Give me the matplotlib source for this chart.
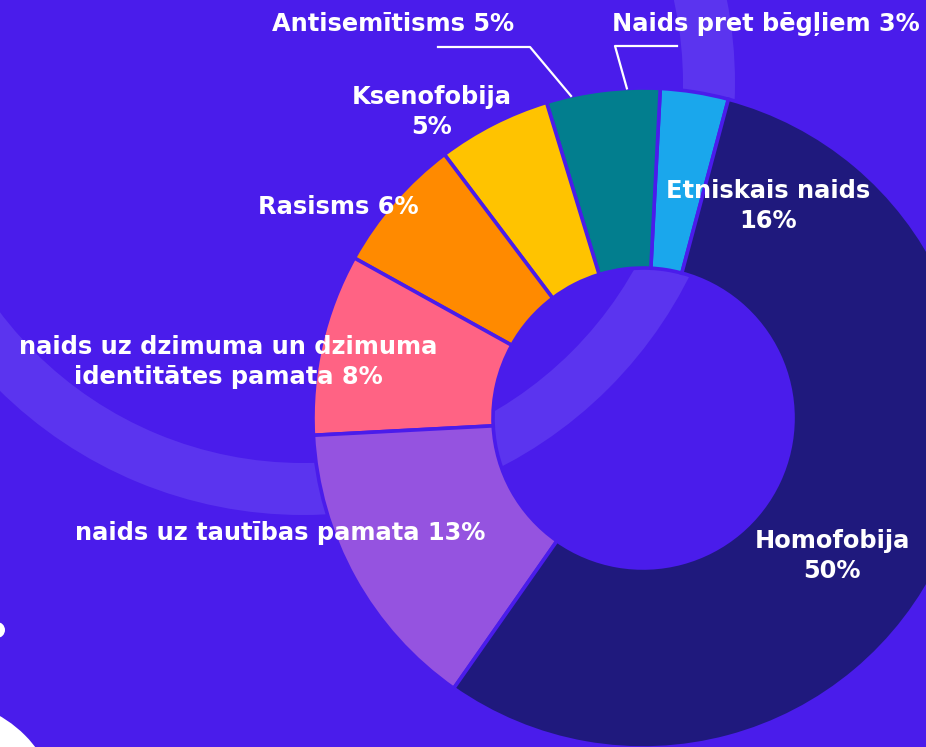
import matplotlib
matplotlib.use("Agg")
import matplotlib.pyplot as plt
from matplotlib.patches import Wedge, Circle
import numpy as np

# Wedge data (drawn counter-clockwise starting at the top right)
categories = ['Naids pret bēgļiem', 'Antisemītisms', 'Ksenofobija', 'Rasisms',
              'naids uz dzimuma un dzimuma\nidentitātes pamata',
              'naids uz tautības pamata', 'Homofobija']
values = [3, 5, 5, 6, 8, 13, 50]
label_sep = [' ', ' ', '\n', ' ', ' ', ' ', '\n']
colors = ['#1AA7EC', '#027E8E', '#FFC300', '#FF8A00', '#FF6384', '#9553E0', '#1F197D']

# label shown in the reference without its own wedge
extra_category = 'Etniskais naids'
extra_value = 16

bg = '#4A1CEB'
band = '#5B34EF'

# label positions (figure pixels, y up)
label_pos = [(766, 723), (393, 723), (432, 635), (338, 540),
             (228, 385), (280, 214), (832, 191)]
extra_pos = (768, 541)

W, H = 926, 747
fig = plt.figure(figsize=(W / 100, H / 100), dpi=100, facecolor=bg)
ax = fig.add_axes([0, 0, 1, 1])
ax.set_facecolor(bg)

# decorative background ring and white shapes
ax.add_patch(Wedge((303, 664), 432, 0, 360, width=52, facecolor=band, edgecolor='none', zorder=0))
ax.add_patch(Circle((-60, -73), 120, facecolor='white', edgecolor='none', zorder=0))
ax.add_patch(Circle((-3, 117), 8, facecolor='white', edgecolor='none', zorder=0))

cx, cy, r = 643, 329, 330
wedges, _ = ax.pie(values, colors=colors, startangle=75, counterclock=True,
                   center=(cx, cy), radius=r,
                   wedgeprops=dict(width=180, edgecolor=bg, linewidth=2.6))

font = dict(color='white', fontweight='bold', fontsize=17.4, family='DejaVu Sans',
            ha='center', va='center', linespacing=1.3, zorder=5)
for cat, val, sep, (x, y) in zip(categories, values, label_sep, label_pos):
    ax.text(x, y, f"{cat}{sep}{val}%", **font)
ax.text(extra_pos[0], extra_pos[1], f"{extra_category}\n{extra_value}%", **font)

# leader lines for the two top labels
def on_edge(angle):
    a = np.radians(angle)
    return cx + r * np.cos(a), cy + r * np.sin(a)

ax1 = on_edge(102.6)
ax.plot([438, 530, ax1[0]], [700, 700, ax1[1]], color='white', lw=1.6, zorder=5)
ax2 = on_edge(92.8)
ax.plot([677, 615, ax2[0]], [701, 701, ax2[1]], color='white', lw=1.6, zorder=5)

ax.set_xlim(0, W)
ax.set_ylim(0, H)
ax.set_aspect('equal')
ax.axis('off')

fig.savefig('out.png', dpi=100, facecolor=bg)
